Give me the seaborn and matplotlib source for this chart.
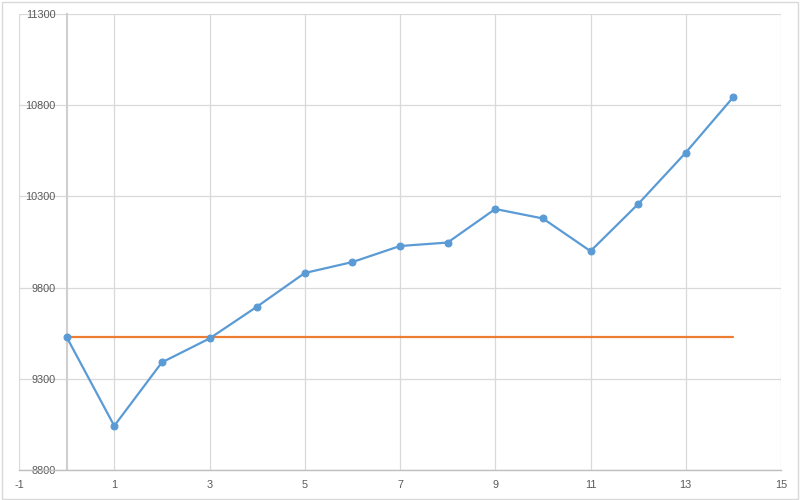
import matplotlib
matplotlib.use("Agg")
import matplotlib.pyplot as plt
import seaborn as sns
import pandas as pd

x_vals = list(range(15))
series_values = [9529, 9042, 9390, 9521, 9696, 9880, 9940, 10028, 10047, 10231, 10179, 10000, 10258, 10540, 10845]
baseline_values = [9530] * 15
x_ticks = [-1, 1, 3, 5, 7, 9, 11, 13, 15]
y_ticks = [8800, 9300, 9800, 10300, 10800, 11300]

sns.set_theme(style="white")
plt.rcParams['font.family'] = ['Liberation Sans', 'DejaVu Sans']

df = pd.DataFrame({"x": x_vals, "y": series_values, "base": baseline_values})

fig = plt.figure(figsize=(8, 5), dpi=100)
ax = fig.add_axes([19/800, 1 - 470/500, (781 - 19)/800, (470 - 14)/500])

sns.lineplot(data=df, x="x", y="base", ax=ax, color="#ED7D31", linewidth=1.6, zorder=3)
sns.lineplot(data=df, x="x", y="y", ax=ax, color="#5B9BD5", linewidth=1.6,
             marker="o", markersize=5, markeredgecolor="#5B9BD5", zorder=4)

ax.set_xlim(-1, 15)
ax.set_ylim(8800, 11300)
ax.set_xticks(x_ticks)
ax.set_yticks(y_ticks)
ax.set_xticklabels([str(t) for t in x_ticks])
ax.set_yticklabels([str(t) for t in y_ticks])
ax.grid(True, color="#D9D9D9", linewidth=0.9)
ax.set_axisbelow(True)
ax.set_xlabel("")
ax.set_ylabel("")

for s in ["top", "right"]:
    ax.spines[s].set_visible(False)
ax.spines["left"].set_position(("data", 0))
ax.spines["left"].set_color("#CFCFCF")
ax.spines["left"].set_linewidth(1.5)
ax.spines["bottom"].set_color("#BFBFBF")
ax.spines["bottom"].set_linewidth(1.0)

ax.tick_params(axis="both", length=0, labelsize=7.8, colors="#595959")
ax.tick_params(axis="x", pad=7)
ax.tick_params(axis="y", pad=8)

# chart-area border
fig.patches.append(plt.Rectangle((0.002, 0.003), 0.995, 0.994, transform=fig.transFigure,
                                 fill=False, edgecolor="#D9D9D9", linewidth=1.0))

fig.savefig("out.png", dpi=100)
